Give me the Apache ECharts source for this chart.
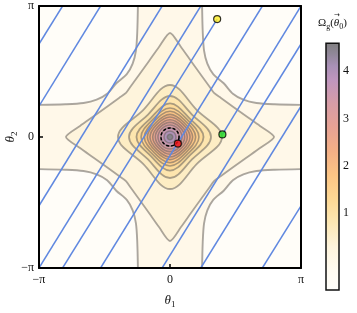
<!DOCTYPE html>
<html><head><meta charset="utf-8">
<script src="https://cdn.jsdelivr.net/npm/echarts@6/dist/echarts.min.js"></script>
<style>html,body{margin:0;padding:0;background:#fff}#c{width:357px;height:313px}</style>
</head><body><div id="c"></div>
<script>
// ---------- data (angles in units of pi) ----------
const axisTicks = [-1, 0, 1];
const axisTickLabels = ['−π', '0', 'π'];

// closed contour rings around the peak: level, radius along the axes, radius along diagonals
const ringLevels = [0.45, 0.75, 1.05, 1.35, 1.65, 1.95, 2.25, 2.55, 2.85, 3.15, 3.45, 3.85, 4.3];
const ringAxisR  = [0.397, 0.313, 0.256, 0.221, 0.196, 0.173, 0.153, 0.132, 0.112, 0.092, 0.070, 0.046, 0.021];
const ringDiagR  = [0.290, 0.240, 0.206, 0.187, 0.170, 0.154, 0.139, 0.122, 0.106, 0.089, 0.070, 0.046, 0.021];

// star shaped contour (first quadrant, from the theta1 arm to the theta2 arm)
const starLevel = 0.15;
const starQuadrant = [[0.794,0],[0.687,0.084],[0.580,0.160],[0.473,0.237],[0.389,0.298],[0.336,0.336],
                      [0.298,0.389],[0.237,0.473],[0.160,0.580],[0.084,0.687],[0,0.794]];

// lowest contour, cutting off each corner (first quadrant copy)
const cornerLevel = -0.15;
const cornerQuadrant = [[0.245,1],[0.25,0.80],[0.26,0.66],[0.285,0.56],[0.33,0.48],[0.41,0.41],[0.48,0.33],[0.56,0.285],[0.66,0.26],[0.80,0.25],[1,0.245]];

// trajectory on the torus, segment end points
const trajectory = [
  [[0.40,0.02],[1,1]],
  [[-1,-1],[0.235,1]],
  [[0.235,-1],[1,0.235]],
  [[-1,0.235],[-0.53,1]],
  [[-0.53,-1],[0.705,1]],
  [[0.705,-1],[1,-0.525]],
  [[-1,-0.525],[-0.06,1]],
  [[-0.06,-1],[1,0.71]],
  [[-1,0.71],[-0.82,1]],
  [[-0.82,-1],[0.36,0.90]]
];
const redPoint = [0.06, -0.05];
const greenPoint = [0.40, 0.02];
const yellowPoint = [0.36, 0.90];
const dashedRadius = 0.069;

// colour bar
const cbarRange = [-0.63, 4.59];
const cbarTicks = [1, 2, 3, 4];
const colorStops = [[-0.63,'#fffefb'],[-0.2,'#fffbf1'],[0.3,'#fef4dc'],[0.8,'#fde8b4'],[1.3,'#fdd894'],[1.8,'#fcc585'],
  [2.3,'#f4b086'],[2.8,'#e7a394'],[3.3,'#d79da6'],[3.8,'#bf96be'],[4.1,'#a890b6'],[4.35,'#908798'],[4.59,'#7f7f7f']];

// ---------- helpers ----------
function hex(h){return [parseInt(h.slice(1,3),16),parseInt(h.slice(3,5),16),parseInt(h.slice(5,7),16)];}
function cmap(v){
  if (v <= colorStops[0][0]) return colorStops[0][1];
  for (let i=1;i<colorStops.length;i++){
    if (v <= colorStops[i][0]){
      const a=colorStops[i-1], b=colorStops[i], t=(v-a[0])/(b[0]-a[0]);
      const ca=hex(a[1]), cb=hex(b[1]);
      return 'rgb('+ca.map((c,k)=>Math.round(c+(cb[k]-c)*t)).join(',')+')';
    }
  }
  return colorStops[colorStops.length-1][1];
}
const LINE = 'rgba(105,100,95,0.56)';
const serif = 'Liberation Serif';

const contours = [];
[[1,1],[-1,1],[-1,-1],[1,-1]].forEach(([sx,sy])=>{
  const curve = cornerQuadrant.map(([x,y])=>[sx*x, sy*y]);
  contours.push({open:true, curve, fillPts: curve.concat([[sx*1.05, sy*1.05]]), fill: cmap(cornerLevel-0.35)});
});
(function(){
  const q = starQuadrant, loop = [];
  q.forEach(([x,y])=>loop.push([x,y]));
  q.slice().reverse().slice(1).forEach(([x,y])=>loop.push([-x,y]));
  q.slice(1).forEach(([x,y])=>loop.push([-x,-y]));
  q.slice().reverse().slice(1,-1).forEach(([x,y])=>loop.push([x,-y]));
  contours.push({open:false, curve: loop, smooth: 0.25, fill: cmap(starLevel+0.15), w:1.8});
})();
ringLevels.forEach((lv,i)=>{
  const pts=[];
  for (let k=0;k<8;k++){
    const r = (k%2===0)? ringAxisR[i] : ringDiagR[i];
    const a = k*Math.PI/4;
    pts.push([r*Math.cos(a), r*Math.sin(a)]);
  }
  contours.push({open:false, curve: pts, smooth: 0.38, fill: cmap(lv+0.15), w: i<3 ? 1.8 : 1.6});
});

const chart = echarts.init(document.getElementById('c'), null, {renderer:'canvas'});
const piLabel = v => { const i = axisTicks.indexOf(Math.round(v)); return i>=0 ? axisTickLabels[i] : ''; };

chart.setOption({
  animation:false,
  grid:[
    {left:39, top:6, width:262, height:262, show:true, backgroundColor: cmap(0.0), borderWidth:0, outerBoundsMode:'none', containLabel:false},
    {left:326, top:23.8, width:13, height:283.8, outerBoundsMode:'none', containLabel:false}
  ],
  xAxis:[
    {gridIndex:0, type:'value', min:-1, max:1, interval:1, position:'bottom', z:10,
     axisLine:{show:true, onZero:false, lineStyle:{color:'#000', width:2}},
     axisTick:{show:true, inside:true, length:4, lineStyle:{color:'#000', width:1.5}},
     splitLine:{show:false},
     axisLabel:{formatter: piLabel, fontFamily:serif, fontSize:12, color:'#111', margin:6},
     name:'{t|θ}{s|1}', nameLocation:'middle', nameGap:25,
     nameTextStyle:{rich:{t:{fontFamily:serif, fontStyle:'italic', fontSize:13, color:'#111', lineHeight:16},
                          s:{fontFamily:serif, fontSize:9, color:'#111', verticalAlign:'bottom', lineHeight:16}}}},
    {gridIndex:0, type:'value', min:-1, max:1, position:'top', z:10,
     axisLine:{show:true, onZero:false, lineStyle:{color:'#000', width:2}}, axisTick:{show:false}, axisLabel:{show:false}, splitLine:{show:false}},
    {gridIndex:1, type:'value', min:0, max:1, show:false}
  ],
  yAxis:[
    {gridIndex:0, type:'value', min:-1, max:1, interval:1, position:'left', z:10,
     axisLine:{show:true, onZero:false, lineStyle:{color:'#000', width:2}},
     axisTick:{show:true, inside:true, length:4, lineStyle:{color:'#000', width:1.5}},
     splitLine:{show:false},
     axisLabel:{formatter: piLabel, fontFamily:serif, fontSize:12, color:'#111', margin:5},
     name:'{t|θ}{s|2}', nameLocation:'middle', nameGap:20, nameRotate:90, nameMoveOverlap:false,
     nameTextStyle:{rich:{t:{fontFamily:serif, fontStyle:'italic', fontSize:13, color:'#111', lineHeight:16},
                          s:{fontFamily:serif, fontSize:9, color:'#111', verticalAlign:'bottom', lineHeight:16}}}},
    {gridIndex:0, type:'value', min:-1, max:1, position:'right', z:10,
     axisLine:{show:true, onZero:false, lineStyle:{color:'#000', width:2}}, axisTick:{show:false}, axisLabel:{show:false}, splitLine:{show:false}},
    {gridIndex:1, type:'value', min:-1, max:5, interval:1, position:'right',
     axisLine:{show:false}, splitLine:{show:false},
     axisTick:{show:true, length:3, customValues:cbarTicks, lineStyle:{color:'#000', width:1.2}},
     axisLabel:{customValues:cbarTicks, fontFamily:serif, fontSize:12, color:'#111', margin:4}}
  ],
  graphic:[
    {type:'text', left:55, top:24, style:{text:'a)', font:'italic 12px "Liberation Serif"', fill:'#111'}},
    {type:'text', left:318, top:18, style:{rich:{
        a:{fontFamily:serif, fontSize:11, fill:'#111'},
        i:{fontFamily:serif, fontSize:11, fontStyle:'italic', fill:'#111'},
        s:{fontFamily:serif, fontSize:8, fill:'#111', verticalAlign:'bottom', lineHeight:14}},
      text:'{a|Ω}{s|g}{a|(}{i|θ}{s|0}{a|)}'}},
    {type:'text', left:334, top:12, style:{text:'→', font:'7px "DejaVu Sans"', fill:'#111'}}
  ],
  series:[
    {type:'custom', coordinateSystem:'cartesian2d', xAxisIndex:0, yAxisIndex:0, clip:true, z:1,
     data: contours.map(()=>[0,0]),
     renderItem:(params, api)=>{
       const c = contours[params.dataIndex];
       const pts = c.curve.map(p=>api.coord(p));
       if (c.open){
         return {type:'group', children:[
           {type:'polygon', shape:{points:c.fillPts.map(p=>api.coord(p))}, style:{fill:c.fill}},
           {type:'polyline', shape:{points:pts, smooth:0.3}, style:{stroke:LINE, lineWidth:1.9, fill:null}}
         ]};
       }
       return {type:'polygon', shape:{points:pts, smooth:c.smooth}, style:{fill:c.fill, stroke:LINE, lineWidth:c.w}};
     }},
    {type:'custom', coordinateSystem:'cartesian2d', xAxisIndex:0, yAxisIndex:0, clip:true, z:3,
     data: trajectory.map(()=>[0,0]),
     renderItem:(params, api)=>{
       const s = trajectory[params.dataIndex];
       return {type:'polyline', shape:{points:s.map(p=>api.coord(p))}, style:{stroke:'#6088e0', lineWidth:1.5, fill:null}};
     }},
    {type:'custom', coordinateSystem:'cartesian2d', xAxisIndex:0, yAxisIndex:0, clip:true, z:4,
     data:[[0,0]],
     renderItem:(params, api)=>{
       const c = api.coord([0,0]);
       const r = api.size([dashedRadius,0])[0];
       return {type:'circle', shape:{cx:c[0], cy:c[1], r:r}, style:{fill:null, stroke:'#000', lineWidth:1.5, lineDash:[3,2]}};
     }},
    {type:'scatter', xAxisIndex:0, yAxisIndex:0, z:5, symbolSize:7,
     data:[
       {value:redPoint, itemStyle:{color:'#ff1010'}},
       {value:greenPoint, itemStyle:{color:'#22dd22'}},
       {value:yellowPoint, itemStyle:{color:'#ffee22'}}
     ],
     itemStyle:{borderColor:'#000', borderWidth:1.2}},
    {type:'custom', coordinateSystem:'cartesian2d', xAxisIndex:2, yAxisIndex:2, z:2,
     data:[[0,0]],
     renderItem:(params, api)=>{
       const p0 = api.coord([0, cbarRange[1]]), p1 = api.coord([1, cbarRange[0]]);
       const span = cbarRange[1]-cbarRange[0];
       const stops = colorStops.map(([v,c])=>({offset:(v-cbarRange[0])/span, color:c}));
       return {type:'rect', shape:{x:p0[0], y:p0[1], width:p1[0]-p0[0], height:p1[1]-p0[1]},
               style:{fill:new echarts.graphic.LinearGradient(0,1,0,0,stops), stroke:'#111', lineWidth:1.5}};
     }}
  ]
});
</script></body></html>
